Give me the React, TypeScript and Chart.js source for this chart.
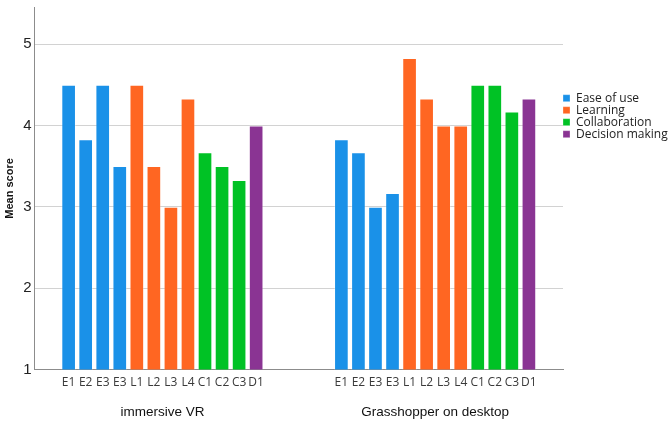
import React, { useEffect, useRef } from 'react';
import Chart from 'chart.js/auto';

// bar labels inside each group
const barLabels = ['E1', 'E2', 'E3', 'E3', 'L1', 'L2', 'L3', 'L4', 'C1', 'C2', 'C3', 'D1'];
const groupNames = ['immersive VR', 'Grasshopper on desktop'];
const seriesNames = ['Ease of use', 'Learning', 'Collaboration', 'Decision making'];
const seriesColors = ['#1A91E8', '#FF6622', '#00C225', '#8A3493'];
// which series each bar belongs to
const barSeries = [0, 0, 0, 0, 1, 1, 1, 1, 2, 2, 2, 3];

const vrScores = [4.5, 3.83, 4.5, 3.5, 4.5, 3.5, 3.0, 4.33, 3.67, 3.5, 3.33, 4.0];
const desktopScores = [3.83, 3.67, 3.0, 3.17, 4.83, 4.33, 4.0, 4.0, 4.5, 4.5, 4.17, 4.33];

const yTicks = [1, 2, 3, 4, 5];

// empty category slots around and between the groups
const leadGap = 2;
const midGap = 4;
const tailGap = 2;

export default function App() {
  const chartRef = useRef<HTMLCanvasElement | null>(null);

  useEffect(() => {
    if (!chartRef.current) return;

    const blank = (n: number) => Array.from({ length: n }, () => '');
    const labels = [...blank(leadGap), ...barLabels, ...blank(midGap), ...barLabels, ...blank(tailGap)];

    const datasets = seriesNames.map((name, s) => {
      const pick = (vals: number[]) => vals.map((v, i) => (barSeries[i] === s ? v : null));
      return {
        label: name,
        data: [
          ...blank(leadGap).map(() => null),
          ...pick(vrScores),
          ...blank(midGap).map(() => null),
          ...pick(desktopScores),
          ...blank(tailGap).map(() => null),
        ],
        backgroundColor: seriesColors[s],
        borderColor: 'rgba(255,255,255,0.3)',
        borderWidth: 1,
        grouped: false,
        barPercentage: 0.86,
        categoryPercentage: 1,
      };
    });

    const half = (barLabels.length - 1) / 2;
    const groupCenters = [leadGap + half, leadGap + barLabels.length + midGap + half];

    const chart = new Chart(chartRef.current, {
      type: 'bar',
      data: { labels, datasets },
      options: {
        animation: false,
        responsive: false,
        maintainAspectRatio: false,
        layout: { padding: { left: 3, right: 0, top: 4, bottom: -5 } },
        plugins: {
          tooltip: { enabled: false },
          legend: {
            position: 'right',
            align: 'start',
            maxWidth: 108,
            title: { display: true, text: '', padding: { top: 87, bottom: 0 }, font: { size: 1 } },
            labels: {
              boxWidth: 7,
              boxHeight: 7,
              padding: 0,
              color: '#222',
              font: { family: 'Open Sans', size: 12 },
            },
          },
        },
        scales: {
          x: {
            type: 'category',
            offset: false,
            grid: { display: false, drawTicks: false },
            border: { display: true, color: '#8c8c8c' },
            ticks: {
              autoSkip: false,
              maxRotation: 0,
              padding: 6,
              color: '#3a3a3a',
              font: { family: 'Open Sans', size: 12 },
            },
          },
          x2: {
            type: 'linear',
            position: 'bottom',
            offset: false,
            min: 0,
            max: labels.length - 1,
            grid: { display: false, drawTicks: false },
            border: { display: false },
            afterBuildTicks: (axis: any) => {
              axis.ticks = groupCenters.map((v) => ({ value: v }));
            },
            ticks: {
              padding: 8,
              maxRotation: 0,
              autoSkip: false,
              color: '#111',
              font: { family: 'Liberation Sans', size: 13.5 },
              callback: (value: any) => {
                const idx = groupCenters.indexOf(Number(value));
                return idx >= 0 ? groupNames[idx] : '';
              },
            },
          },
          y: {
            min: 1,
            max: 5.45,
            afterBuildTicks: (axis: any) => {
              axis.ticks = yTicks.map((v) => ({ value: v }));
            },
            grid: { color: '#d2d2d2', lineWidth: 1, drawTicks: false },
            border: { display: true, color: '#8c8c8c' },
            ticks: {
              padding: 3,
              color: '#222',
              font: { family: 'Liberation Sans', size: 15, lineHeight: 0.6 },
            },
            title: {
              display: true,
              text: 'Mean score',
              color: '#111',
              padding: { top: 0, bottom: 4 },
              font: { family: 'Liberation Sans', size: 11, weight: 'bold' },
            },
          },
        },
      },
    } as any);

    return () => {
      chart.destroy();
    };
  }, []);

  return (
    <div style={{ position: 'fixed', left: 0, top: 0, width: 671, height: 423, background: '#fff' }}>
      <canvas ref={chartRef} width={671} height={423} style={{ width: 671, height: 423 }}></canvas>
    </div>
  );
}
